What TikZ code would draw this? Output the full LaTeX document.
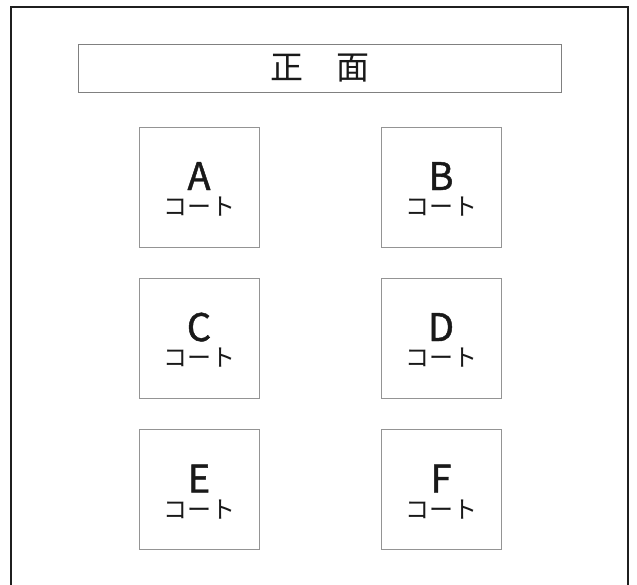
\documentclass[tikz,border=0pt]{standalone}
\usepackage{fontspec}
\setmainfont{Noto Sans CJK JP}
\newfontfamily\cjk{Noto Sans CJK JP}
\newfontfamily\cjkb[FakeBold=1.2]{Noto Sans CJK JP}
\begin{document}
\begin{tikzpicture}[x=1pt,y=-1pt,
  court/.style={draw=black!42,line width=0.9pt,minimum width=120pt,minimum height=120pt,inner sep=0pt},
  letter/.style={anchor=base,inner sep=0pt,font=\cjkb\fontsize{38}{38}\selectfont,text=black!90},
  kata/.style={anchor=base,inner sep=0pt,font=\cjk\fontsize{24}{24}\selectfont,text=black!90},
  titlebox/.style={draw=black!50,line width=0.9pt,minimum width=483pt,minimum height=48pt,inner sep=0pt},
  frame/.style={draw=black!88,line width=2.4pt}]
\useasboundingbox (0,0) rectangle (637,584);
\fill[white] (0,0) rectangle (637,584);
\draw[frame] (11,7) rectangle (628,600);
\node[titlebox] (title) at (319.5,68) {};
\node[inner sep=0pt,font=\cjk\fontsize{33}{33}\selectfont,text=black!90] (titletext) at (title.center) {正　面};
\foreach \n/\x/\y in {A/199/187,B/441/187,C/199/338,D/441/338,E/199/489.5,F/441/489.5}{
  \node[court] (box\n) at (\x,\y) {};
  \node[letter] (let\n) at ([yshift=-3pt]box\n.center) {\n};
  \node[kata] (kat\n) at ([yshift=-28.5pt]box\n.center) {コート};
}
\end{tikzpicture}
\end{document}
